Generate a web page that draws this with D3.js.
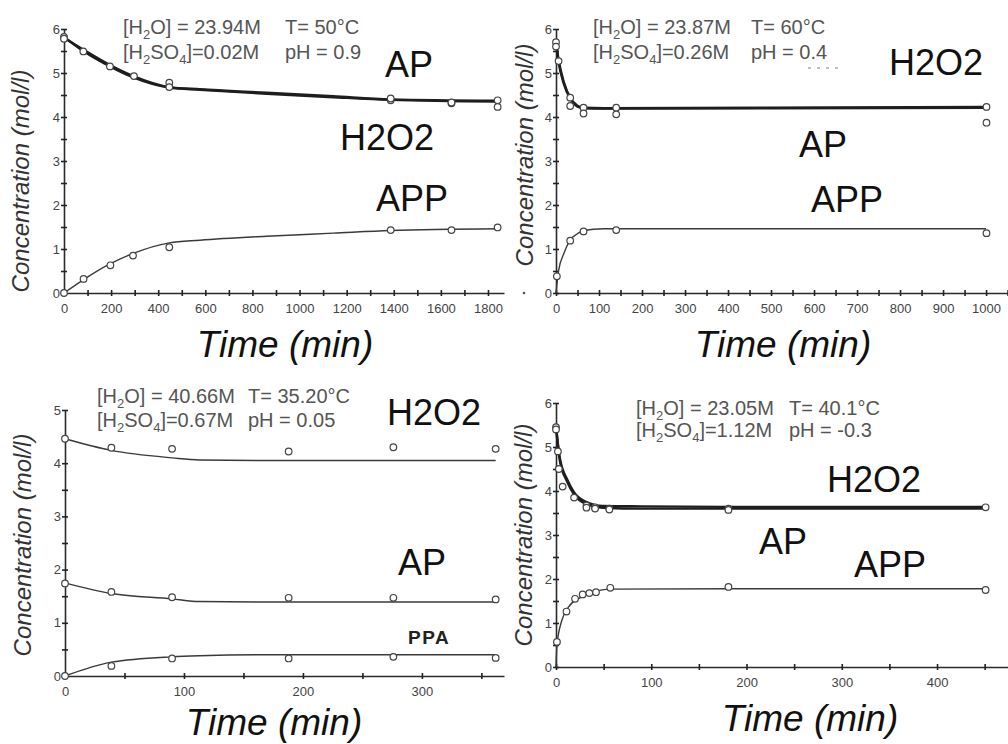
<!DOCTYPE html>
<html><head><meta charset="utf-8">
<script src="https://cdn.jsdelivr.net/npm/d3@7"></script>
<style>body{margin:0;background:#fff} svg{display:block}</style>
</head><body><svg id="c" width="1008" height="744"></svg>
<script>
// ---------------- DATA ----------------
// Panel 1: T = 50 C
const p1H2O2Fit = [[0,5.82],[82,5.5],[195,5.15],[294,4.9],[447,4.67],[577,4.62],[860,4.53],[1143,4.45],[1387,4.39],[1840,4.35]];
const p1APFit   = [[0,5.8],[82,5.53],[195,5.18],[294,4.93],[447,4.68],[577,4.63],[860,4.55],[1143,4.47],[1387,4.4],[1840,4.37]];
const p1APPFit  = [[0,0],[82,0.3],[195,0.66],[294,0.9],[447,1.14],[577,1.2],[860,1.29],[1143,1.36],[1387,1.42],[1840,1.46]];
const p1H2O2Pts = [[0,5.82],[82,5.49],[195,5.15],[297,4.93],[447,4.78],[1387,4.38],[1645,4.31],[1841,4.38]];
const p1APPts   = [[0,5.78],[447,4.68],[1387,4.42],[1645,4.33],[1841,4.23]];
const p1APPPts  = [[0,0],[83,0.32],[197,0.63],[293,0.85],[447,1.04],[1387,1.43],[1645,1.43],[1841,1.49]];
const p1XTicks = [0,200,400,600,800,1000,1200,1400,1600,1800];
const p1Cond = ["[H_2O] = 23.94M","T= 50°C","[H_2SO_4]=0.02M","pH = 0.9"];

// Panel 2: T = 60 C
const p2H2O2Fit = [[0,5.72],[6,5.3],[18,4.8],[33,4.44],[49,4.26],[64,4.21],[111,4.2],[500,4.21],[1000,4.23]];
const p2APFit   = [[0,5.68],[6,5.25],[18,4.76],[33,4.42],[49,4.24],[64,4.2],[111,4.19],[500,4.2],[1000,4.21]];
const p2APPFit  = [[0,0],[6,0.51],[18,0.89],[33,1.21],[49,1.34],[64,1.42],[111,1.46],[500,1.46],[1000,1.46]];
const p2H2O2Pts = [[0,5.7],[6,5.27],[33,4.44],[64,4.21],[140,4.21],[1001,4.23]];
const p2APPts   = [[0,5.6],[33,4.25],[64,4.08],[140,4.06],[1001,3.87]];
const p2APPPts  = [[2,0.38],[33,1.19],[64,1.4],[140,1.43],[1001,1.36]];
const p2XTicks = [0,100,200,300,400,500,600,700,800,900,1000];
const p2Cond = ["[H_2O] = 23.87M","T= 60°C","[H_2SO_4]=0.26M","pH = 0.4"];

// Panel 3: T = 35.20 C
const p3H2O2Fit = [[0,4.46],[39,4.24],[90,4.1],[113,4.06],[170,4.05],[362,4.05]];
const p3APFit   = [[0,1.75],[39,1.55],[90,1.45],[113,1.4],[170,1.39],[362,1.39]];
const p3PPAFit  = [[0,0],[39,0.26],[90,0.36],[113,0.38],[170,0.4],[362,0.4]];
const p3H2O2Pts = [[0,4.46],[39,4.29],[90,4.27],[188,4.22],[276,4.3],[362,4.27]];
const p3APPts   = [[0,1.74],[39,1.58],[90,1.48],[188,1.47],[276,1.47],[362,1.44]];
const p3PPAPts  = [[0,0],[39,0.19],[90,0.33],[188,0.33],[276,0.36],[362,0.34]];
const p3XTicks = [0,100,200,300];
const p3Cond = ["[H_2O] = 40.66M","T= 35.20°C","[H_2SO_4]=0.67M","pH = 0.05"];

// Panel 4: T = 40.1 C
const p4H2O2Fit = [[0,5.5],[4,4.75],[12,4.25],[19,3.97],[32,3.75],[49,3.66],[90,3.65],[181,3.64],[453,3.64]];
const p4APFit   = [[0,5.45],[4,4.7],[12,4.2],[19,3.92],[32,3.7],[49,3.62],[90,3.6],[181,3.6],[453,3.6]];
const p4APPFit  = [[0,0],[1,0.5],[6,1.05],[13,1.36],[25,1.57],[39,1.7],[57,1.77],[181,1.78],[453,1.78]];
const p4H2O2Pts = [[0,5.45],[2,4.9],[7,4.1],[19,3.85],[32,3.67],[41,3.63],[56,3.6],[181,3.6],[451,3.63]];
const p4APPts   = [[0,5.4],[3,4.5],[32,3.62],[41,3.6],[56,3.58],[181,3.57]];
const p4APPPts  = [[1,0.57],[11,1.26],[20,1.55],[28,1.65],[35,1.68],[42,1.7],[57,1.8],[181,1.82],[451,1.75]];
const p4XTicks = [0,100,200,300,400];
const p4Cond = ["[H_2O] = 23.05M","T= 40.1°C","[H_2SO_4]=1.12M","pH = -0.3"];

const yTicks6 = [0,1,2,3,4,5,6];
const yTicks5 = [0,1,2,3,4,5];

// ---------------- LAYOUT ----------------
const panels = [
  {xDom:[0,1868], xR:[64,504], yDom:[0,6], yR:[293,29], xTicks:p1XTicks, xMinor:100, yTicks:yTicks6,
   curves:[[p1H2O2Fit,2.4],[p1APFit,2.4],[p1APPFit,1.4]], pts:[p1H2O2Pts,p1APPts,p1APPPts],
   cond:p1Cond, condX:[123,285], condY:[34,59],
   labels:[["AP",385,77],["H2O2",340,150],["APP",376,211]],
   yTitle:[29,181], xTitle:[285,357]},
  {xDom:[0,1051], xR:[556,1008], yDom:[0,6], yR:[293,29], xTicks:p2XTicks, xMinor:50, yTicks:yTicks6,
   curves:[[p2H2O2Fit,2.4],[p2APFit,2.4],[p2APPFit,1.4]], pts:[p2H2O2Pts,p2APPts,p2APPPts],
   cond:p2Cond, condX:[593,751], condY:[34,59],
   labels:[["H2O2",889,75],["AP",799,157],["APP",811,212]],
   yTitle:[533,155], xTitle:[783,357], stray:true},
  {xDom:[0,369], xR:[65,504], yDom:[0,5], yR:[676,410], xTicks:p3XTicks, xMinor:50, yTicks:yTicks5,
   curves:[[p3H2O2Fit,1.4],[p3APFit,1.4],[p3PPAFit,1.4]], pts:[p3H2O2Pts,p3APPts,p3PPAPts],
   cond:p3Cond, condX:[97,248], condY:[403,427],
   labels:[["H2O2",387,425],["AP",398,575]], bold:["PPA",408,644],
   yTitle:[31,545], xTitle:[274,735]},
  {xDom:[0,474.5], xR:[556,1008], yDom:[0,6], yR:[667,403], xTicks:p4XTicks, xMinor:50, yTicks:yTicks6,
   curves:[[p4H2O2Fit,2.4],[p4APFit,2.4],[p4APPFit,1.4]], pts:[p4H2O2Pts,p4APPts,p4APPPts],
   cond:p4Cond, condX:[636,789], condY:[415,437],
   labels:[["H2O2",827,492],["AP",759,554],["APP",854,577]],
   yTitle:[532,535], xTitle:[810,731]}
];

const FONT = "'Liberation Sans', Arial, sans-serif";
const svg = d3.select("#c").style("font-family", FONT);
svg.append("rect").attr("width",1008).attr("height",744).attr("fill","#fff");

function rich(textSel, str) {
  const parts = str.split(/(_\d)/).filter(s => s.length);
  let shifted = false;
  parts.forEach(p => {
    if (p[0] === "_") {
      textSel.append("tspan").attr("font-size","13px").attr("dy", shifted ? 0 : 5).text(p.slice(1));
      shifted = true;
    } else {
      textSel.append("tspan").attr("dy", shifted ? -5 : 0).text(p);
      shifted = false;
    }
  });
}

panels.forEach(P => {
  const x = d3.scaleLinear().domain(P.xDom).range(P.xR);
  const y = d3.scaleLinear().domain(P.yDom).range(P.yR);
  const g = svg.append("g");

  // x axis: major + minor ticks
  const majorSet = new Set(P.xTicks);
  const allX = d3.range(0, P.xDom[1] + 1e-9, P.xMinor);
  const xAxis = d3.axisBottom(x).tickValues(allX).tickSizeOuter(0).tickSizeInner(0).tickPadding(11)
    .tickFormat(d => majorSet.has(d) ? d : "");
  const gx = g.append("g").attr("transform", `translate(0,${P.yR[0]})`).call(xAxis);
  gx.select(".domain").attr("stroke","#2a2a2a").attr("stroke-width",1.6);
  gx.selectAll(".tick line").attr("y1",-3).attr("y2",3).attr("stroke","#222").attr("stroke-width",1.6);
  gx.selectAll(".tick text").attr("fill","#444").attr("font-size","13px").attr("font-family",FONT);

  // y axis
  const allY = d3.range(0, P.yDom[1] + 1e-9, 0.5);
  const yAxis = d3.axisLeft(y).tickValues(allY).tickSizeOuter(0).tickSizeInner(0).tickPadding(4)
    .tickFormat(d => Number.isInteger(d) ? d : "");
  const gy = g.append("g").attr("transform", `translate(${P.xR[0]},0)`).call(yAxis);
  gy.select(".domain").attr("stroke","#2a2a2a").attr("stroke-width",1.6);
  gy.selectAll(".tick line").attr("x1",-3).attr("x2",3).attr("stroke","#222").attr("stroke-width",1.6);
  gy.selectAll(".tick text").attr("fill","#444").attr("font-size","13px").attr("font-family",FONT);

  // curves
  const line = d3.line().x(d => x(d[0])).y(d => y(d[1])).curve(d3.curveMonotoneX);
  P.curves.forEach(([data, w]) => {
    g.append("path").datum(data).attr("d", line).attr("fill","none")
      .attr("stroke", w > 2 ? "#1e1e1e" : "#3a3a3a").attr("stroke-width", w);
  });
  // markers
  P.pts.forEach(data => {
    g.selectAll(null).data(data).enter().append("circle")
      .attr("cx", d => x(d[0])).attr("cy", d => y(d[1])).attr("r", 3.3)
      .attr("fill","#fff").attr("stroke","#444").attr("stroke-width",1.2);
  });

  // conditions text
  [[0,0,0],[1,1,0],[2,0,1],[3,1,1]].forEach(([i,cx,cy]) => {
    const t = g.append("text").attr("x", P.condX[cx]).attr("y", P.condY[cy])
      .attr("font-size","20px").attr("fill","#555");
    rich(t, P.cond[i]);
  });
  if (P.stray) {
    g.append("line").attr("x1", P.condX[1] + 57).attr("x2", P.condX[1] + 92)
      .attr("y1", P.condY[1] + 9).attr("y2", P.condY[1] + 9)
      .attr("stroke","#aaa").attr("stroke-width",1.5).attr("stroke-dasharray","3,6");
    g.append("circle").attr("cx", P.xR[0] - 32).attr("cy", P.yR[0]).attr("r", 1.3).attr("fill","#555");
  }

  // species labels
  P.labels.forEach(([s, lx, ly]) => {
    g.append("text").attr("x", lx).attr("y", ly).attr("font-size","36px").attr("fill","#111").text(s);
  });
  if (P.bold) {
    g.append("text").attr("x", P.bold[1]).attr("y", P.bold[2]).attr("font-size","19px")
      .attr("font-weight","bold").attr("letter-spacing","1.5px").attr("fill","#222").text(P.bold[0]);
  }

  // axis titles
  g.append("text").attr("transform", `translate(${P.yTitle[0]},${P.yTitle[1]}) rotate(-90)`)
    .attr("text-anchor","middle").attr("font-size","24px").attr("font-style","italic").attr("fill","#333")
    .text("Concentration (mol/l)");
  g.append("text").attr("x", P.xTitle[0]).attr("y", P.xTitle[1]).attr("text-anchor","middle")
    .attr("font-size","37px").attr("font-style","italic").attr("fill","#111").text("Time (min)");
});
</script></body></html>
